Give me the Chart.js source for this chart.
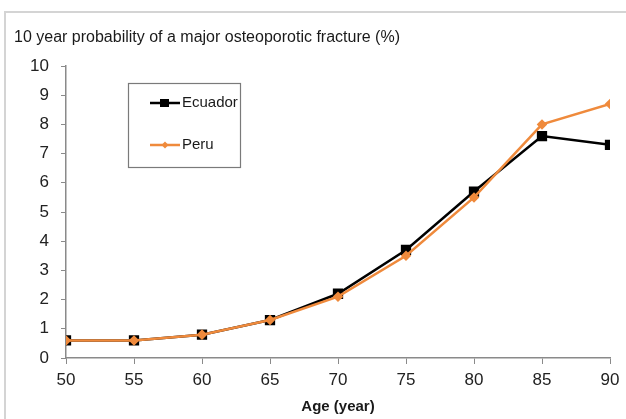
<!DOCTYPE html>
<html>
<head>
<meta charset="utf-8">
<script src="https://cdn.jsdelivr.net/npm/chart.js@4"></script>
<style>
  html, body { margin: 0; padding: 0; background: #fff; }
  #wrap { position: relative; width: 626px; height: 419px; overflow: hidden; }
  #frame { position: absolute; left: 4px; top: 11px; width: 660px; height: 440px;
           border-left: 2px solid #d4d4d4; border-top: 2px solid #d4d4d4; box-sizing: border-box; }
  canvas { position: absolute; left: 0; top: 0; }
</style>
</head>
<body>
<div id="wrap">
  <div id="frame"></div>
  <canvas id="c" width="626" height="419"></canvas>
</div>
<script>
// Age groups and 10-year fracture probability (%)
const ages = [50, 55, 60, 65, 70, 75, 80, 85, 90];
const ecuador = [0.6, 0.6, 0.8, 1.3, 2.2, 3.7, 5.7, 7.6, 7.3];
const peru = [0.6, 0.6, 0.8, 1.3, 2.1, 3.5, 5.5, 8.0, 8.7];
const seriesNames = ['Ecuador', 'Peru'];
const titleText = '10 year probability of a major osteoporotic fracture (%)';
const xTitle = 'Age (year)';

const FONT = '"Liberation Sans", Arial, sans-serif';
const AXIS = '#8a8a8a';
const ORANGE = '#EF8A3C';

const toPoints = vals => ages.map((a, i) => ({ x: a, y: vals[i] }));

// Title and boxed legend drawn over the canvas
const overlay = {
  id: 'overlay',
  afterDraw(chart) {
    const ctx = chart.ctx;
    ctx.save();
    ctx.fillStyle = '#1a1a1a';
    ctx.font = '16px ' + FONT;
    ctx.textBaseline = 'middle';
    ctx.textAlign = 'left';
    ctx.fillText(titleText, 14, 38);

    // legend box
    const bx = 128, by = 83, bw = 112, bh = 84;
    ctx.strokeStyle = '#7a7a7a';
    ctx.lineWidth = 1.2;
    ctx.strokeRect(bx + 0.5, by + 0.5, bw, bh);
    chart.data.datasets.forEach((ds, i) => {
      const y = by + 20 + i * 42;
      ctx.strokeStyle = ds.borderColor;
      ctx.lineWidth = ds.borderWidth;
      ctx.beginPath();
      ctx.moveTo(150, y);
      ctx.lineTo(180, y);
      ctx.stroke();
      ctx.fillStyle = ds.pointBackgroundColor;
      if (ds.pointStyle === 'rect') {
        ctx.fillRect(160, y - 4, 9, 8);
      } else {
        ctx.beginPath();
        ctx.moveTo(165, y - 3.5); ctx.lineTo(168.5, y); ctx.lineTo(165, y + 3.5); ctx.lineTo(161.5, y);
        ctx.closePath(); ctx.fill();
      }
      ctx.fillStyle = '#1a1a1a';
      ctx.font = '15px ' + FONT;
      ctx.fillText(ds.label, 182, y);
    });
    ctx.restore();
  }
};

new Chart(document.getElementById('c'), {
  type: 'line',
  data: {
    datasets: [
      {
        label: seriesNames[0], data: toPoints(ecuador),
        borderColor: '#000000', backgroundColor: '#000000',
        pointBackgroundColor: '#000000', pointBorderColor: '#000000',
        pointStyle: 'rect', pointRadius: 5.5, borderWidth: 2.5, order: 1
      },
      {
        label: seriesNames[1], data: toPoints(peru),
        borderColor: ORANGE, backgroundColor: ORANGE,
        pointBackgroundColor: ORANGE, pointBorderColor: ORANGE,
        pointStyle: 'rectRot', pointRadius: 3.5, borderWidth: 2.5, order: 0
      }
    ]
  },
  options: {
    responsive: false,
    animation: false,
    layout: { padding: { left: 10, right: 16, top: 66, bottom: 0 } },
    plugins: { legend: { display: false }, tooltip: { enabled: false }, title: { display: false } },
    scales: {
      x: {
        type: 'linear', min: 50, max: 90,
        ticks: { stepSize: 5, color: '#222', font: { family: FONT, size: 17 }, padding: 6 },
        grid: { drawOnChartArea: false, color: AXIS, tickLength: 6 },
        border: { color: AXIS, width: 1.5 },
        title: { display: true, text: xTitle, color: '#1a1a1a', font: { family: FONT, size: 15, weight: 'bold' }, padding: { top: 2, bottom: 3 } },
        afterFit(s) { s.height = 61; }
      },
      y: {
        min: 0, max: 10,
        ticks: { stepSize: 1, color: '#222', font: { family: FONT, size: 17 }, padding: 12 },
        grid: { drawOnChartArea: false, color: AXIS, tickLength: 5 },
        border: { color: AXIS, width: 1.5 },
        afterFit(s) { s.width = 56; }
      }
    }
  },
  plugins: [overlay]
});
</script>
</body>
</html>
